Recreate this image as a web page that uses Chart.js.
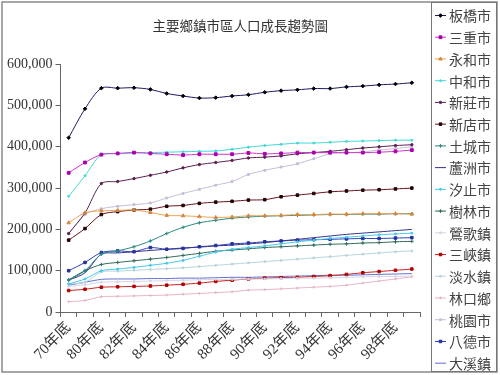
<!DOCTYPE html>
<html>
<head>
<meta charset="utf-8">
<script src="https://cdn.jsdelivr.net/npm/chart.js@4.4.1/dist/chart.umd.min.js"></script>
<style>
  html, body { margin: 0; padding: 0; background: #fff; }
  #wrap { width: 500px; height: 375px; }
</style>
</head>
<body>
<div id="wrap"><canvas id="popChart" width="500" height="375"></canvas></div>
<script>
// 年底 categories
const years = ['70年底','75年底','80年底','81年底','82年底','83年底','84年底','85年底','86年底','87年底','88年底',
               '89年底','90年底','91年底','92年底','93年底','94年底','95年底','96年底','97年底','98年底','99年底'];

// population
const banqiao  = [422000,492000,542000,542000,543000,539000,529000,523000,518000,519000,523000,526000,532000,536000,538000,541000,541000,545000,547000,550000,552000,555000];
const sanchong = [337000,362000,381000,384000,386000,384000,382000,380000,382000,382000,382000,385000,383000,384000,386000,386000,386000,386000,386000,387000,389000,392000];
const yonghe   = [216000,240000,245000,246000,247000,241000,234000,233000,231000,229000,230000,233000,233000,234000,236000,236000,237000,237000,238000,238000,238000,237000];
const zhonghe  = [280000,330000,381000,383000,385000,386000,387000,388000,389000,390000,394000,399000,403000,406000,409000,409000,411000,413000,414000,415000,416000,416000];
const xinzhuang= [190000,240000,311000,316000,323000,331000,339000,349000,357000,362000,367000,373000,375000,378000,383000,386000,389000,393000,397000,400000,403000,405000];
const xindian  = [174000,202000,236000,243000,247000,249000,256000,258000,263000,266000,268000,271000,272000,279000,283000,287000,291000,293000,295000,296000,298000,300000];
const tucheng  = [77000,100000,140000,148000,158000,172000,190000,205000,216000,222000,227000,230000,232000,233000,234000,235000,236000,236000,237000,237000,238000,238000];
const luzhou   = [77000,95000,140000,143000,146000,149000,152000,155000,157000,160000,162000,165000,168000,172000,176000,180000,184000,188000,191000,194000,197000,200000];
const xizhi    = [68000,80000,100000,104000,108000,113000,118000,125000,135000,145000,152000,156000,160000,165000,170000,174000,178000,181000,184000,187000,189000,191000];
const shulin   = [78000,100000,115000,120000,124000,128000,132000,137000,142000,147000,150000,153000,156000,158000,160000,162000,164000,165000,167000,168000,170000,171000];
const yingge   = [62000,66000,72000,73000,74000,75000,76000,77000,78000,79000,79000,80000,80000,81000,82000,82000,83000,84000,85000,86000,86000,87000];
const sanxia   = [52000,55000,60000,61000,62000,63000,65000,67000,70000,74000,77000,80000,82000,83000,84000,86000,88000,91000,95000,98000,101000,104000];
const tamsui   = [68000,72000,97000,99000,101000,103000,105000,107000,110000,113000,116000,119000,122000,125000,128000,131000,134000,137000,140000,143000,146000,148000];
const linkou   = [25000,28000,37000,38000,39000,40000,41000,43000,45000,47000,49000,53000,54000,56000,58000,60000,62000,65000,70000,75000,80000,85000];
const taoyuan  = [190000,236000,250000,256000,260000,264000,276000,287000,297000,307000,316000,333000,343000,351000,359000,371000,383000,385000,388000,392000,396000,400000];
const bade     = [100000,120000,144000,148000,146000,156000,152000,154000,158000,161000,165000,167000,170000,172000,174000,175000,176000,177000,178000,178000,179000,180000];
const daxi     = [65000,72000,79000,80000,80000,81000,81000,82000,82000,83000,84000,84000,85000,86000,87000,88000,89000,89000,90000,91000,92000,93000];

const yTicks = [0,100000,200000,300000,400000,500000,600000];

function ds(label, data, color, style, r, pointColor) {
    return {
        label: label, data: data, borderColor: color, backgroundColor: pointColor || color,
        pointBorderColor: pointColor || color, pointStyle: style, pointRadius: r, pointBorderWidth: 1,
        borderWidth: 1, tension: 0.3, fill: false
    };
}

// frame + boxed legend on the right (line sample with marker, then the name)
const frameLegend = {
    id: 'frameLegend',
    afterDraw(chart) {
        const c = chart.ctx;
        c.save();
        c.strokeStyle = '#8a8a8a'; c.lineWidth = 1.5;
        c.strokeRect(2, 2, 495, 370);
        c.strokeStyle = '#777'; c.lineWidth = 1;
        c.strokeRect(431.5, 2.5, 65, 369);
        c.font = "14px 'Noto Sans CJK TC'";
        c.textBaseline = 'middle';
        chart.data.datasets.forEach((d, i) => {
            const y = 15 + i * 21.73;
            c.strokeStyle = d.borderColor; c.lineWidth = 1;
            c.beginPath(); c.moveTo(435, y + 0.5); c.lineTo(446, y + 0.5); c.stroke();
            if (d.pointRadius > 0) {
                c.fillStyle = d.backgroundColor; c.strokeStyle = d.pointBorderColor;
                Chart.helpers.drawPoint(c, { pointStyle: d.pointStyle, radius: d.pointRadius, borderWidth: 1, rotation: 0 }, 440.5, y + 0.5);
            }
            c.fillStyle = '#444';
            c.fillText(d.label, 449, y + 1);
        });
        c.restore();
    }
};

new Chart(document.getElementById('popChart'), {
    type: 'line',
    data: {
        labels: years,
        datasets: [
            ds('板橋市', banqiao, '#1a1a66', 'rectRot', 1.8, '#000'),
            ds('三重市', sanchong, '#cc33cc', 'rect', 2, '#aa00aa'),
            ds('永和市', yonghe, '#f0a050', 'triangle', 2, '#d08840'),
            ds('中和市', zhonghe, '#40d8d8', 'circle', 1),
            ds('新莊市', xinzhuang, '#5a2050', 'circle', 1.2),
            ds('新店市', xindian, '#6a1020', 'rect', 1.8, '#200000'),
            ds('土城市', tucheng, '#2a8a80', 'cross', 1.8),
            ds('蘆洲市', luzhou, '#33338f', 'circle', 0),
            ds('汐止市', xizhi, '#44c8e8', 'circle', 1),
            ds('樹林市', shulin, '#2f6a5a', 'cross', 1.8),
            ds('鶯歌鎮', yingge, '#d4d4e4', 'circle', 1),
            ds('三峽鎮', sanxia, '#cc2020', 'rect', 1.8, '#b00000'),
            ds('淡水鎮', tamsui, '#b8d4dc', 'circle', 1),
            ds('林口鄉', linkou, '#e8b4c4', 'cross', 1.4),
            ds('桃園市', taoyuan, '#c8bcd8', 'rect', 1.3),
            ds('八德市', bade, '#3040b8', 'rect', 1.8, '#2030a0'),
            ds('大溪鎮', daxi, '#6070d0', 'circle', 0)
        ]
    },
    options: {
        responsive: false,
        animation: false,
        layout: { padding: { top: 8, left: 4, right: 80, bottom: 0 } },
        plugins: {
            title: {
                display: true, text: '主要鄉鎮市區人口成長趨勢圖', fullSize: false,
                color: '#333', font: { family: "'Noto Sans CJK TC'", size: 13.5, weight: 'normal' },
                padding: { top: 10, bottom: 30 }
            },
            legend: { display: false },
            tooltip: { enabled: false }
        },
        scales: {
            x: {
                offset: true,
                afterFit: axis => { axis.height = 63; },
                grid: { drawOnChartArea: false, offset: true, tickLength: 5, color: '#666' },
                border: { color: '#666' },
                ticks: {
                    autoSkip: false, maxRotation: 45, minRotation: 45, color: '#333', padding: 2,
                    font: { family: "'Liberation Serif', 'Noto Sans CJK TC'", size: 15 },
                    callback: (v, i) => i % 2 === 0 ? years[i] : ''
                }
            },
            y: {
                min: yTicks[0], max: yTicks[yTicks.length - 1],
                afterBuildTicks: axis => { axis.ticks = yTicks.map(v => ({ value: v })); },
                grid: { drawOnChartArea: false, tickLength: 5, color: '#666' },
                border: { color: '#666' },
                ticks: {
                    color: '#333', padding: 3,
                    font: { family: "'Liberation Serif'", size: 14 },
                    callback: v => v.toLocaleString('en-US')
                }
            }
        }
    },
    plugins: [frameLegend]
});
</script>
</body>
</html>
